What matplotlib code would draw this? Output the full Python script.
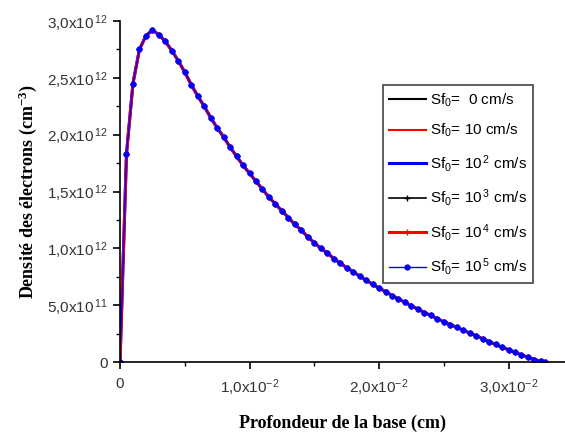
import matplotlib
matplotlib.use("Agg")
import matplotlib.pyplot as plt
from matplotlib.ticker import FixedLocator

plt.rcParams['mathtext.fontset'] = 'custom'
plt.rcParams['mathtext.rm'] = 'Liberation Sans'
plt.rcParams['mathtext.default'] = 'regular'

# profondeur (x1e-3 cm) et densite (x1e12 cm-3)
depth = [0.0, 0.5, 1.0, 1.5, 2.0, 2.5, 3.0, 3.5, 4.0, 4.5, 5.0, 5.5, 6.0, 6.5,
         7.0, 7.5, 8.0, 8.5, 9.0, 9.5, 10.0, 10.5, 11.0, 11.5, 12.0, 12.5,
         13.0, 13.5, 14.0, 14.5, 15.0, 15.5, 16.0, 16.5, 17.0, 17.5, 18.0,
         18.5, 19.0, 19.5, 20.0, 20.5, 21.0, 21.5, 22.0, 22.5, 23.0, 23.5,
         24.0, 24.5, 25.0, 25.5, 26.0, 26.5, 27.0, 27.5, 28.0, 28.5, 29.0,
         29.5, 30.0, 30.5, 31.0, 31.5, 32.0, 32.5, 32.8]
density = [0.00, 1.83, 2.45, 2.75, 2.87, 2.92, 2.88, 2.82, 2.74, 2.65, 2.55,
           2.44, 2.34, 2.25, 2.15, 2.06, 1.98, 1.89, 1.81, 1.73, 1.66, 1.59,
           1.52, 1.45, 1.39, 1.33, 1.27, 1.21, 1.16, 1.10, 1.05, 1.00, 0.96,
           0.91, 0.87, 0.83, 0.795, 0.755, 0.72, 0.685, 0.65, 0.62, 0.585,
           0.555, 0.525, 0.495, 0.465, 0.435, 0.41, 0.38, 0.355, 0.33, 0.305,
           0.28, 0.255, 0.23, 0.205, 0.18, 0.155, 0.13, 0.108, 0.085, 0.063,
           0.042, 0.022, 0.007, 0.0]

labels = ['Sf$_0$=  0 cm/s', 'Sf$_0$= 10 cm/s', 'Sf$_0$= 10$^{\\,2}$ cm/s',
          'Sf$_0$= 10$^{\\,3}$ cm/s', 'Sf$_0$= 10$^{\\,4}$ cm/s',
          'Sf$_0$= 10$^{\\,5}$ cm/s']

xticks = [0, 0.01, 0.02, 0.03]
xticklabels = ['0', '1,0x10$^{-2}$', '2,0x10$^{-2}$', '3,0x10$^{-2}$']
yticks = [0, 0.5e12, 1.0e12, 1.5e12, 2.0e12, 2.5e12, 3.0e12]
yticklabels = ['0', '5,0x10$^{\\,11}$', '1,0x10$^{\\,12}$', '1,5x10$^{\\,12}$',
               '2,0x10$^{\\,12}$', '2,5x10$^{\\,12}$', '3,0x10$^{\\,12}$']

x = [d * 1e-3 for d in depth]
y = [v * 1e12 for v in density]

fig = plt.figure(figsize=(5.65, 4.37), dpi=100)
ax = fig.add_axes([0.2124, 0.1716, 0.7876, 0.7803])

ax.plot(x, y, color='black', lw=1.5, label=labels[0])
ax.plot(x, y, color='red', lw=1.5, label=labels[1])
ax.plot(x, y, color='blue', lw=2.2, label=labels[2])
ax.plot(x, y, color='black', lw=1.2, marker='+', ms=4, label=labels[3])
ax.plot(x, y, color='red', lw=2.2, marker='+', ms=4, label=labels[4])
ax.plot(x, y, color='blue', lw=1.0, marker='o', ms=3.5, label=labels[5])

ax.set_xlim(0, 0.03436)
ax.set_ylim(0, 3.0e12)

ax.spines['top'].set_visible(False)
ax.spines['right'].set_visible(False)
ax.spines['left'].set_linewidth(1.2)
ax.spines['bottom'].set_linewidth(1.2)

ax.xaxis.set_major_locator(FixedLocator(xticks))
ax.xaxis.set_minor_locator(FixedLocator([0.005, 0.015, 0.025]))
ax.yaxis.set_major_locator(FixedLocator(yticks))
ax.yaxis.set_minor_locator(FixedLocator([0.25e12, 0.75e12, 1.25e12, 1.75e12,
                                         2.25e12, 2.75e12]))
ax.set_xticklabels(xticklabels)
ax.set_yticklabels(yticklabels)
ax.tick_params(which='major', length=5, width=1.2, labelsize=11,
               labelcolor='#333333')
ax.tick_params(which='minor', length=3, width=1.0)
ax.tick_params(axis='x', pad=6)
for t in ax.get_xticklabels() + ax.get_yticklabels():
    t.set_family('Liberation Sans')

ax.set_xlabel('Profondeur de la base (cm)', family='Liberation Serif',
              fontweight='bold', fontsize=13, labelpad=12)
ax.set_ylabel('Densité des électrons (cm$^{-3}$)', family='Liberation Serif',
              fontweight='bold', fontsize=13, labelpad=6)

leg = ax.legend(loc='upper left', bbox_to_anchor=(0.591, 0.812),
                prop={'family': 'Liberation Sans', 'size': 11},
                frameon=True, fancybox=False, framealpha=1, edgecolor='#444444',
                labelspacing=0.88, handlelength=2.4, handletextpad=0.3,
                borderpad=0.4, borderaxespad=0)
leg.get_frame().set_linewidth(1.2)

fig.savefig('out.png', dpi=100)
